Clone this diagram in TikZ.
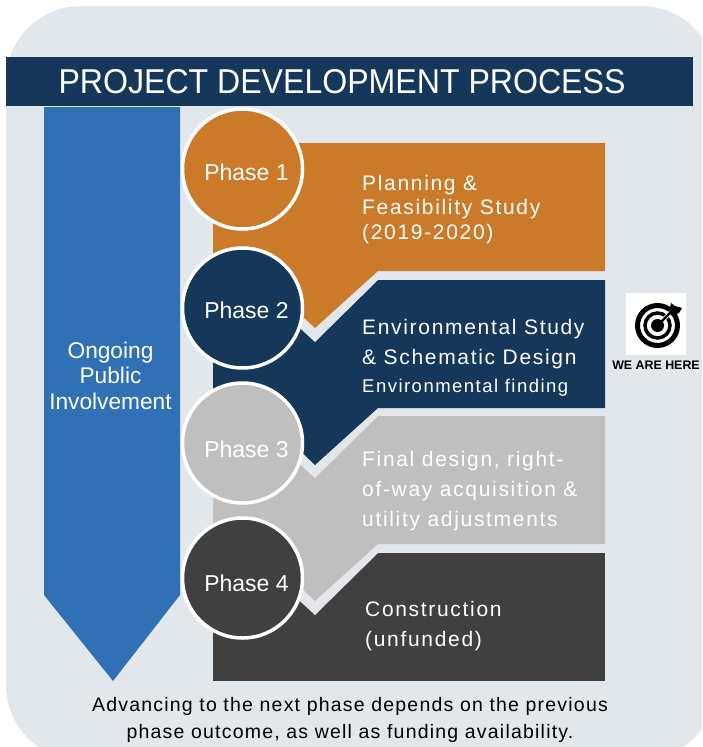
\documentclass[tikz,border=0pt]{standalone}
\usepackage{fontspec}
\setmainfont{Liberation Sans}
\newfontfamily\spaced[LetterSpace=8]{Liberation Sans}
\newfontfamily\spacedless[LetterSpace=6.2]{Liberation Sans}
\newfontfamily\titlefont[FakeStretch=0.93]{Liberation Sans}
\definecolor{bgc}{HTML}{E2E7EB}
\definecolor{navyc}{HTML}{14375A}
\definecolor{bluec}{HTML}{3070B5}
\definecolor{orangec}{HTML}{CB7A29}
\definecolor{grayc}{HTML}{BFBFBF}
\definecolor{darkc}{HTML}{404040}
\tikzset{
  phasecircle/.style={circle,draw=white,line width=3.5pt,minimum size=120pt,inner sep=0pt},
  phaselabel/.style={text=white,inner sep=0pt,font=\fontsize{23}{27}\selectfont},
  bodytext/.style={text=white,anchor=west,align=left,inner sep=0pt},
}
\begin{document}
\begin{tikzpicture}[x=1pt,y=-1pt]
\useasboundingbox (0,0) rectangle (702,747);
\fill[white] (0,0) rectangle (702,747);
\begin{scope}
\clip (0,0) rectangle (702,747);
\fill[bgc,rounded corners=75pt] (6,6) rectangle (716,760);
\end{scope}
\node[fill=navyc,text=white,minimum width=687pt,minimum height=49pt,inner sep=0pt,font=\titlefont\fontsize{34.5}{40}\selectfont] (title) at (349.5,81.5) {\hspace{-15pt}PROJECT DEVELOPMENT PROCESS};
\fill[bluec] (44,107) -- (180,107) -- (180,595) -- (113,681) -- (44,595) -- cycle;
\node[text=white,align=center,inner sep=0pt,font=\fontsize{22.7}{25.5}\selectfont] (ongoing) at (110.5,375.5) {Ongoing\\Public\\Involvement};
% stepped panels, drawn bottom to top
\fill[darkc] (213,553) -- (605,553) -- (605,681) -- (213,681) -- cycle;
\fill[bgc] (378,544) -- (378,553) -- (315,615) -- (250,555) -- (250,530) -- cycle;
\fill[grayc] (213,416) -- (605,416) -- (605,544) -- (378,544) -- (315,601) -- (270,558) -- (213,558) -- cycle;
\fill[bgc] (378,408) -- (378,416) -- (315,478) -- (250,418) -- (250,395) -- cycle;
\fill[navyc] (213,280) -- (605,280) -- (605,408) -- (378,408) -- (315,465) -- (270,422) -- (213,422) -- cycle;
\fill[bgc] (378,271) -- (378,280) -- (315,342) -- (250,282) -- (250,260) -- cycle;
\fill[orangec] (213,143) -- (605,143) -- (605,271) -- (378,271) -- (315,328) -- (270,286) -- (213,286) -- cycle;
% circles
\node[phasecircle,fill=orangec] (p1) at (242.5,169) {};
\node[phasecircle,fill=navyc] (p2) at (242.5,308) {};
\node[phasecircle,fill=grayc] (p3) at (242.5,443) {};
\node[phasecircle,fill=darkc] (p4) at (242.5,578) {};
\node[phaselabel] (l1) at (246.5,172) {Phase 1};
\node[phaselabel] (l2) at (246.5,310) {Phase 2};
\node[phaselabel] (l3) at (246.5,449) {Phase 3};
\node[phaselabel] (l4) at (246.5,583) {Phase 4};
% panel text
\node[bodytext,font=\spaced\fontsize{21}{24.5}\selectfont] (t1) at (362,209.5) {Planning \&\\Feasibility Study\\(2019-2020)};
\node[bodytext,font=\spaced\fontsize{21}{30}\selectfont] (t2) at (362,344.5) {Environmental Study\\\& Schematic Design};
\node[bodytext,font=\spaced\fontsize{18.5}{20}\selectfont] (t2b) at (362,387.5) {Environmental finding};
\node[bodytext,font=\spaced\fontsize{21}{30}\selectfont] (t3) at (362,491.5) {Final design, right-\\of-way acquisition \&\\utility adjustments};
\node[bodytext,font=\spaced\fontsize{21}{30}\selectfont] (t4) at (365,626.5) {Construction\\(unfunded)};
% target icon
\node[fill=white,minimum width=60pt,minimum height=62pt,inner sep=0pt] (iconbox) at (656,324) {};
\draw[black,line width=5pt] (iconbox.center)++(1.5,1.5) circle (20pt);
\draw[black,line width=3.5pt] (iconbox.center)++(1.5,1.5) circle (12.5pt);
\fill[black] (iconbox.center)++(1.5,1.5) circle (6.5pt);
\draw[white,line width=4pt] (iconbox.center)++(8,-5) -- ++(12,-12);
\draw[black,line width=2.4pt] (iconbox.center)++(1.5,1.5) -- ++(15,-15);
\fill[black] (669,313) -- (671,303) -- (675,306) -- (682,308) -- (679,313) -- (672,316) -- cycle;
\node[inner sep=0pt,font=\bfseries\fontsize{12.4}{15}\selectfont] (here) at (656,365) {WE ARE HERE};
% footer
\node[align=center,inner sep=0pt,text=black,font=\spacedless\fontsize{19.5}{27}\selectfont] (note) at (350,720) {Advancing to the next phase depends on the previous\\phase outcome, as well as funding availability.};
\end{tikzpicture}
\end{document}
